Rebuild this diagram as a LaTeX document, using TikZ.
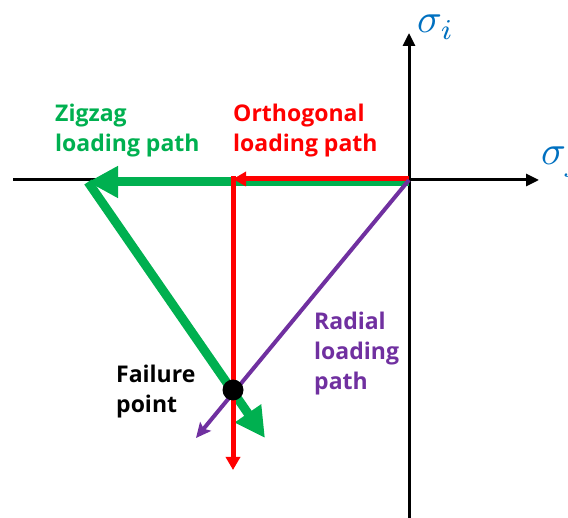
\documentclass[tikz,border=0pt]{standalone}
\usepackage{fontspec}
\setmainfont{Open Sans}
\usetikzlibrary{arrows.meta}
\definecolor{zgreen}{RGB}{0,176,80}
\definecolor{ored}{RGB}{255,0,0}
\definecolor{rpurple}{RGB}{112,48,160}
\definecolor{sblue}{RGB}{0,112,192}
\begin{document}
\begin{tikzpicture}[x=1pt,y=-1pt,
  axisline/.style={line width=3pt,black,-{Triangle[length=13pt,width=12pt]}},
  zigline/.style={line width=9pt,zgreen,-{Triangle[length=30pt,width=30pt]}},
  orthline/.style={line width=5pt,ored,-{Triangle[length=13pt,width=14pt]}},
  radline/.style={line width=4pt,rpurple,-{Stealth[length=15pt,width=14pt,inset=3pt]}},
  lbl/.style={font=\fontsize{23}{30}\selectfont\bfseries,align=left,anchor=base west,inner sep=0pt},
  axlbl/.style={text=sblue,anchor=base west,inner sep=0pt}]
\useasboundingbox (0,0) rectangle (568,518);
% coordinates
\coordinate (O) at (409,180);
\coordinate (xl) at (13,180);
\coordinate (xr) at (539,180);
\coordinate (yb) at (409,518);
\coordinate (yt) at (409,33);
\coordinate (gO) at (409,182);
\coordinate (gC) at (88,182);
\coordinate (gE) at (265,438);
\coordinate (rO) at (409,179);
\coordinate (rC) at (233,179);
\coordinate (rV) at (233,176.5);
\coordinate (rE) at (233,470);
\coordinate (pE) at (196,438);
% axes
\draw[axisline] (xl) -- (xr);
\draw[axisline] (yb) -- (yt);
\node[axlbl] (si) at (417,33) {\scalebox{4.1}{$\sigma_i$}};
\node[axlbl] (sj) at (541,165) {\scalebox{4.1}{$\sigma_j$}};
% zigzag path
\draw[zigline] (gO) -- (gC);
\draw[zigline] (gC) -- (gE);
% orthogonal path
\draw[orthline] (rO) -- (rC);
\draw[orthline] (rV) -- (rE);
% radial path
\draw[radline] (O) -- (pE);
% failure point
\node[circle,fill=black,minimum size=21pt,inner sep=0pt] (fp) at (233,390) {};
% labels
\node[lbl,text=zgreen] (zl) at (55,152) {Zigzag\\loading path};
\node[lbl,text=ored] (ol) at (233,152) {Orthogonal\\loading path};
\node[lbl,text=rpurple] (rl) at (314,390) {Radial\\loading\\path};
\node[lbl,text=black] (fl) at (116,413) {Failure\\point};
\end{tikzpicture}
\end{document}
